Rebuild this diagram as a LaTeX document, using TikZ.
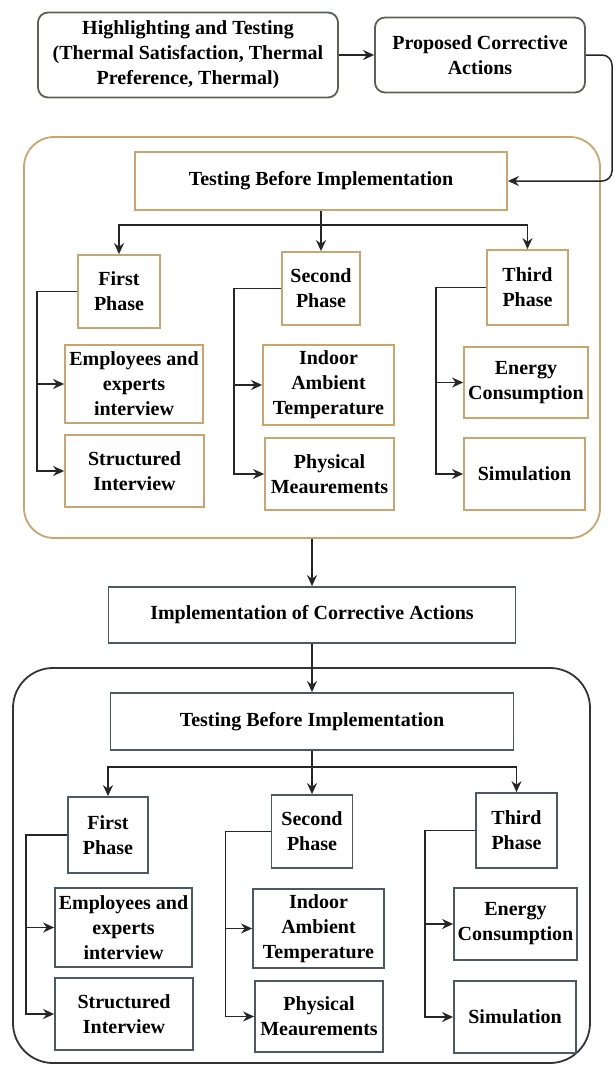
\documentclass[tikz,border=0pt]{standalone}
\usepackage{fontspec}
\setmainfont{Liberation Serif}
\usetikzlibrary{arrows.meta}
\definecolor{sketchgray}{HTML}{5B6157}
\definecolor{sand}{HTML}{C9A66E}
\definecolor{slate}{HTML}{4E5864}
\definecolor{wire}{HTML}{262626}

\begin{document}
\begin{tikzpicture}[x=0.5pt, y=-0.5pt,
		box/.style={draw, line width=0.9pt, align=center, inner sep=1pt, font=\bfseries\fontsize{10}{12.5}\selectfont},
		topbox/.style={box, draw=sketchgray, rounded corners=5pt},
		sandbox/.style={box, draw=sand},
		slatebox/.style={box, draw=slate},
		group/.style={draw, line width=0.9pt, inner sep=0pt},
		arrow/.style={draw=wire, line width=0.75pt, -{Stealth[length=5.5pt,width=5pt]}},
		link/.style={draw=wire, line width=0.75pt}
		]
		
		\useasboundingbox (0,0) rectangle (615,1066);
		
		% Top row
		\node[topbox, minimum width=150pt, minimum height=42.5pt] (high) at (188,55) {Highlighting and Testing\\(Thermal Satisfaction, Thermal\\Preference, Thermal)};
		\node[topbox, minimum width=105pt, minimum height=37.5pt] (prop) at (480,55) {Proposed Corrective\\Actions};
		\draw[arrow] (high) -- (prop);
		
		% Testing before implementation (sand)
		\node[group, draw=sand, rounded corners=15pt, minimum width=288pt, minimum height=200.5pt] (grp1) at (312,337.5) {};
		\node[sandbox, minimum width=186pt, minimum height=29pt] (test1) at (321,181) {Testing Before Implementation};
		\draw[arrow, rounded corners=5pt] (prop.east) -- (612,55) |- (test1.east);
		
		\node[sandbox, minimum width=41pt, minimum height=36.5pt] (ph1a) at (119,291.5) {First\\Phase};
		\node[sandbox, minimum width=39pt, minimum height=36.5pt] (ph2a) at (321,288.5) {Second\\Phase};
		\node[sandbox, minimum width=40.5pt, minimum height=37.5pt] (ph3a) at (527.5,287.5) {Third\\Phase};
		\node[sandbox, minimum width=69pt, minimum height=39pt] (emp1) at (134,384) {Employees and\\experts\\interview};
		\node[sandbox, minimum width=69.5pt, minimum height=36pt] (str1) at (134.5,471) {Structured\\Interview};
		\node[sandbox, minimum width=65.5pt, minimum height=40pt] (ind1) at (328.5,385) {Indoor\\Ambient\\Temperature};
		\node[sandbox, minimum width=64.5pt, minimum height=36pt] (phy1) at (329.5,474) {Physical\\Meaurements};
		\node[sandbox, minimum width=62pt, minimum height=35.5pt] (ene1) at (526,382.5) {Energy\\Consumption};
		\node[sandbox, minimum width=60.5pt, minimum height=36pt] (sim1) at (524.5,474) {Simulation};
		
		\coordinate (fork1) at (321,225);
		\draw[arrow] (test1.south) -- (ph2a.north);
		\draw[arrow] (fork1) -| (ph1a.north);
		\draw[arrow] (fork1) -| (ph3a.north);
		
		\draw[arrow] (ph1a.west) -- ++(-40,0) |- (emp1.west);
		\draw[arrow] (ph1a.west) -- ++(-40,0) |- (str1.west);
		\draw[arrow] (ph2a.west) -- ++(-47,0) |- (ind1.west);
		\draw[arrow] (ph2a.west) -- ++(-47,0) |- (phy1.west);
		\draw[arrow] (ph3a.west) -- ++(-50,0) |- (ene1.west);
		\draw[arrow] (ph3a.west) -- ++(-50,0) |- (sim1.west);
		
		% Implementation
		\node[slatebox, minimum width=203.5pt, minimum height=28pt] (impl) at (312,615) {Implementation of Corrective Actions};
		\draw[arrow] (grp1.south) -- (impl.north);
		
		% Testing after implementation (slate)
		\node[group, draw=black!80, rounded corners=20pt, minimum width=288.5pt, minimum height=197.5pt] (grp2) at (301.5,865.5) {};
		\node[slatebox, minimum width=201.5pt, minimum height=28.5pt] (test2) at (312,721.5) {Testing Before Implementation};
		\draw[arrow] (impl.south) -- (test2.north);
		
		\node[slatebox, minimum width=40pt, minimum height=38pt] (ph1b) at (108,835) {First\\Phase};
		\node[slatebox, minimum width=40.5pt, minimum height=36.5pt] (ph2b) at (312,831.5) {Second\\Phase};
		\node[slatebox, minimum width=40.5pt, minimum height=37.5pt] (ph3b) at (516.5,830.5) {Third\\Phase};
		\node[slatebox, minimum width=68.5pt, minimum height=39.5pt] (emp2) at (123.5,927.5) {Employees and\\experts\\interview};
		\node[slatebox, minimum width=69pt, minimum height=36pt] (str2) at (124,1014) {Structured\\Interview};
		\node[slatebox, minimum width=65.5pt, minimum height=39.5pt] (ind2) at (318.5,928.5) {Indoor\\Ambient\\Temperature};
		\node[slatebox, minimum width=64pt, minimum height=35.5pt] (phy2) at (319,1016.5) {Physical\\Meaurements};
		\node[slatebox, minimum width=61.5pt, minimum height=36pt] (ene2) at (515.5,924) {Energy\\Consumption};
		\node[slatebox, minimum width=61pt, minimum height=36pt] (sim2) at (515,1017) {Simulation};
		
		\coordinate (fork2) at (312,767);
		\draw[arrow] (test2.south) -- (ph2b.north);
		\draw[arrow] (fork2) -| (ph1b.north);
		\draw[arrow] (fork2) -| (ph3b.north);
		
		\draw[arrow] (ph1b.west) -- ++(-41,0) |- (emp2.west);
		\draw[arrow] (ph1b.west) -- ++(-41,0) |- (str2.west);
		\draw[arrow] (ph2b.west) -- ++(-45,0) |- (ind2.west);
		\draw[arrow] (ph2b.west) -- ++(-45,0) |- (phy2.west);
		\draw[arrow] (ph3b.west) -- ++(-50,0) |- (ene2.west);
		\draw[arrow] (ph3b.west) -- ++(-50,0) |- (sim2.west);
		
	\end{tikzpicture}
\end{document}
